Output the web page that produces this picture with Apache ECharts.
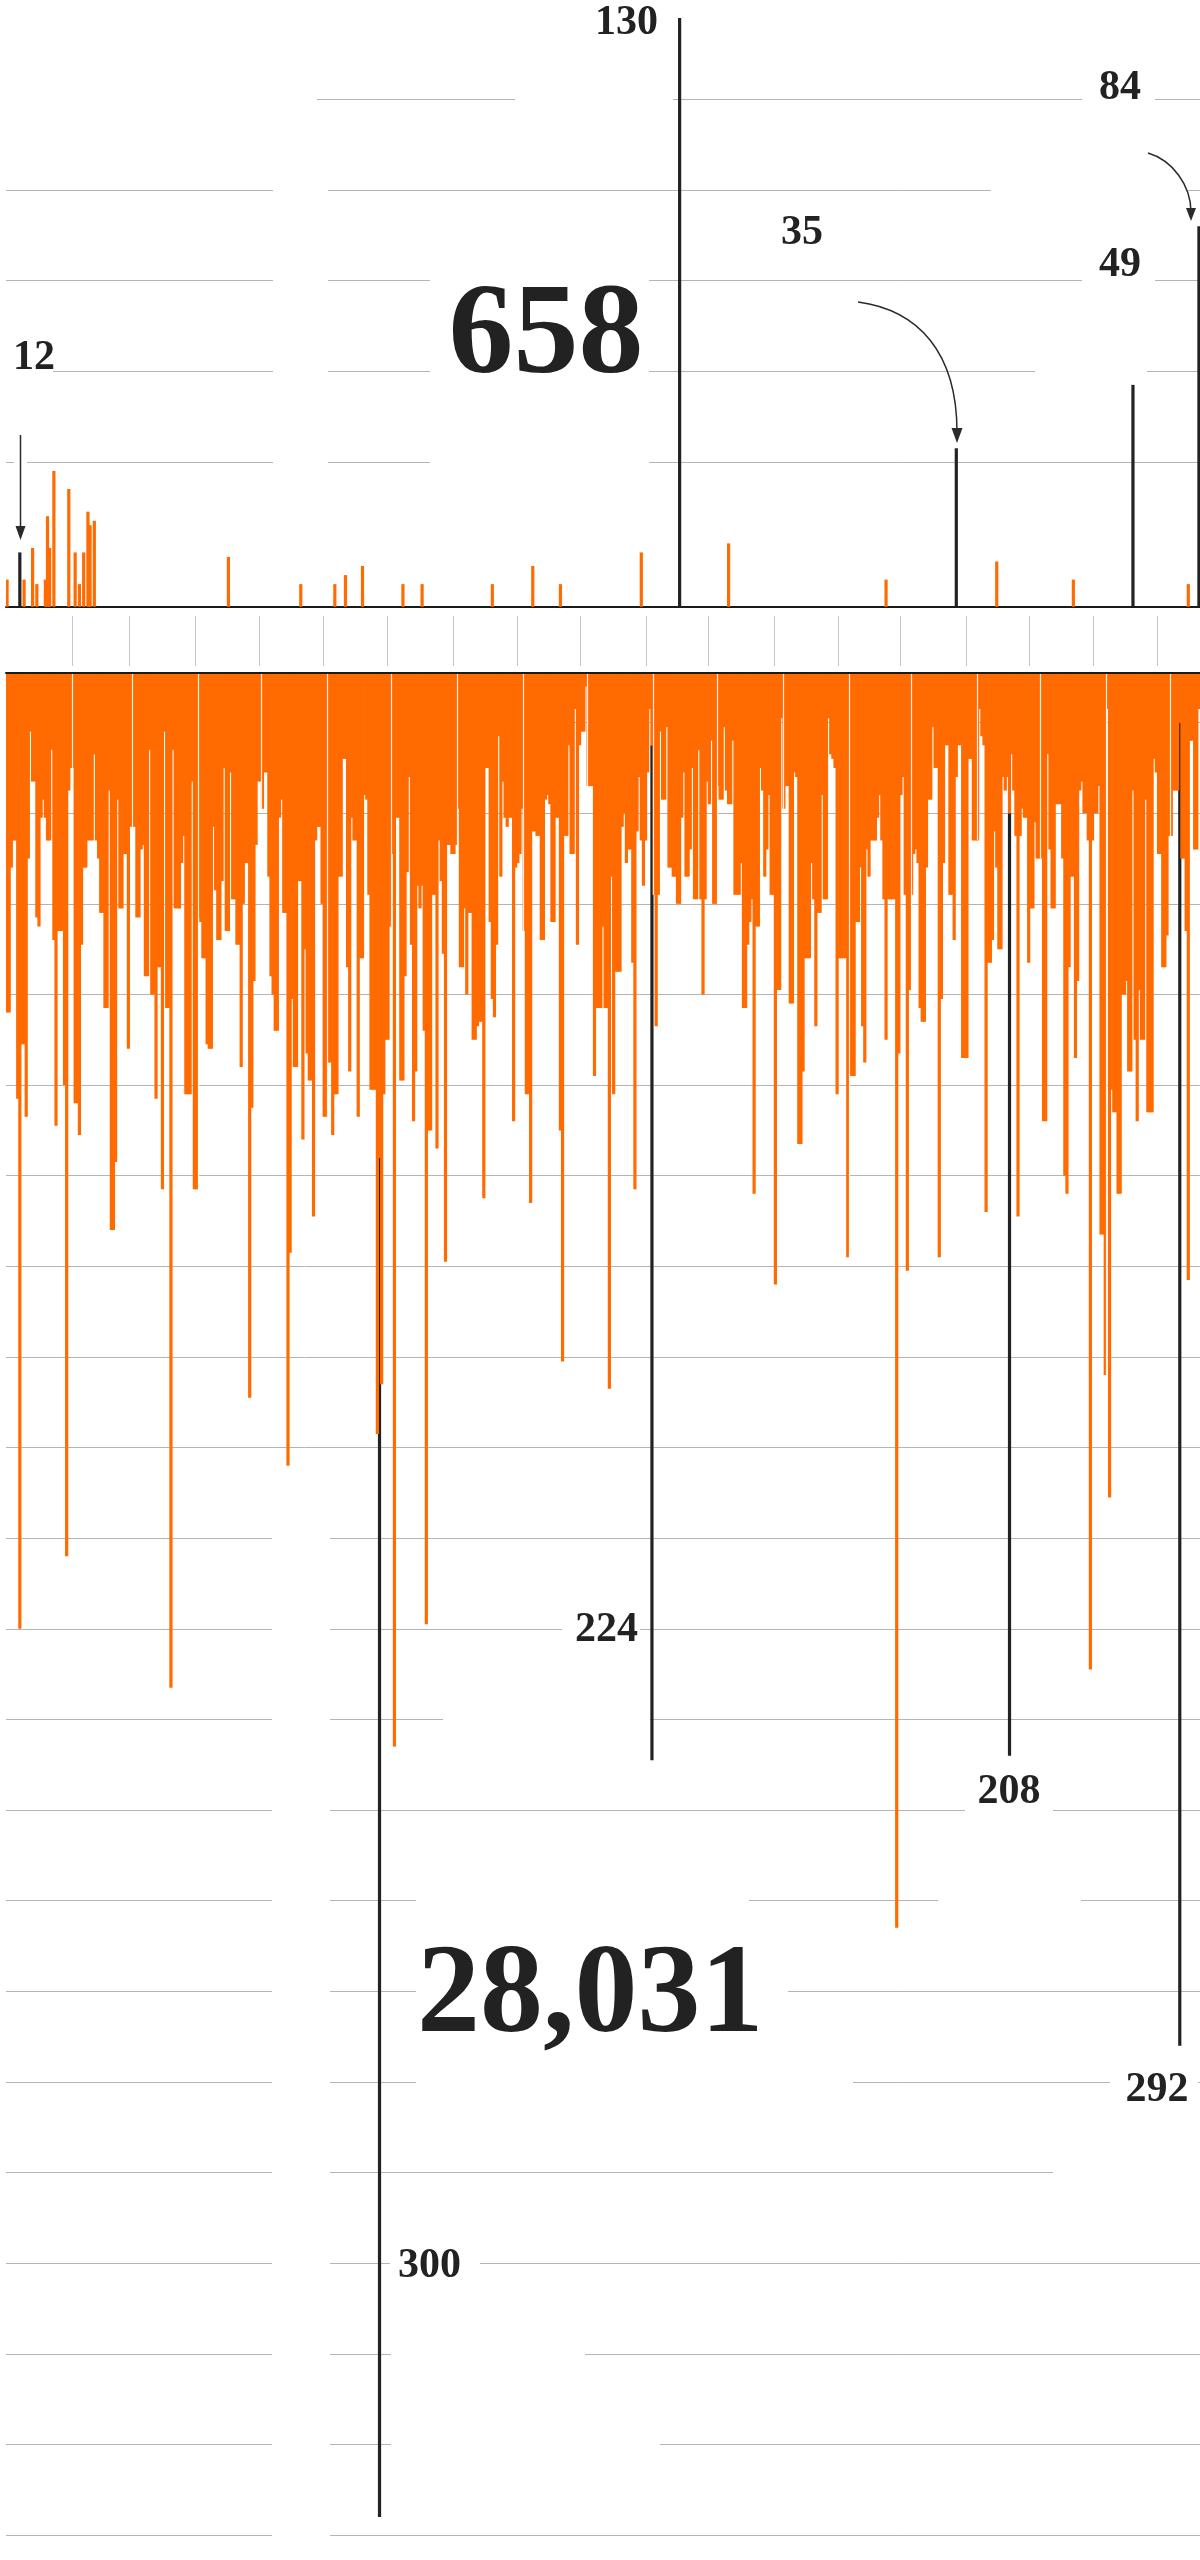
<!DOCTYPE html>
<html>
<head>
<meta charset="utf-8">
<script src="https://cdn.jsdelivr.net/npm/echarts@6/dist/echarts.min.js"></script>
<style>
html,body{margin:0;padding:0;background:#ffffff;}
#chart{width:1200px;height:2560px;}
</style>
</head>
<body>
<div id="chart"></div>
<script>
// ---------------- DATA ----------------
// One category per day, 1 Jan 2015 .. 14 Jul 2016 (561 days)
const START_DATE = [2015, 0, 1];
const DAY_COUNT = 561;

// Upper chart: daily deaths (Europe & US). Highlighted attacks drawn in black.
const TOP_HIGHLIGHT_DAYS   = [6, 316, 446, 529, 560];
const TOP_HIGHLIGHT_VALUES = [12, 130, 35, 49, 84];
const TOP_OTHER_DAYS   = [0, 8, 12, 14, 18, 19, 20, 22, 29, 32, 34, 36, 38, 39, 41, 104, 138, 154, 159, 167, 186, 195, 228, 247, 260, 298, 339, 413, 465, 501, 555];
const TOP_OTHER_VALUES = [6, 6, 13, 5, 6, 20, 13, 30, 26, 12, 5, 12, 21, 18, 19, 11, 5, 5, 7, 9, 5, 5, 5, 9, 5, 12, 14, 6, 10, 6, 5];
const TOP_TOTAL = 658;

// Lower chart: daily deaths (rest of the world). Highlighted attacks drawn in black.
const BOTTOM_HIGHLIGHT_DAYS   = [175, 303, 471, 551];
const BOTTOM_HIGHLIGHT_VALUES = [300, 224, 208, 292];
const BOTTOM_OTHER_VALUES = [
  75, 75, 43, 37, 37, 94, 211, 82, 82, 98,
  41, 13, 24, 24, 54, 56, 32, 28, 32, 37,
  37, 17, 59, 100, 57, 57, 57, 91, 195, 26,
  21, 21, 95, 95, 102, 60, 43, 43, 37, 37,
  37, 18, 37, 41, 53, 53, 74, 74, 26, 123,
  123, 108, 28, 52, 52, 40, 40, 83, 34, 34,
  34, 54, 54, 39, 38, 67, 67, 17, 71, 71,
  94, 65, 65, 114, 13, 74, 74, 224, 17, 52,
  52, 52, 42, 36, 93, 93, 93, 24, 114, 114,
  54, 55, 63, 63, 82, 83, 83, 34, 48, 59,
  59, 46, 21, 57, 57, 22, 50, 50, 60, 60,
  87, 51, 42, 42, 160, 96, 68, 38, 24, 24,
  30, 22, 22, 45, 67, 71, 79, 79, 32, 28,
  53, 53, 175, 128, 72, 87, 87, 46, 46, 103,
  61, 84, 90, 90, 120, 37, 34, 34, 51, 98,
  98, 86, 86, 102, 93, 93, 45, 45, 19, 19,
  65, 88, 32, 37, 37, 98, 63, 63, 27, 28,
  49, 92, 92, 92, 168, 107, 157, 93, 81, 81,
  56, 40, 237, 32, 32, 90, 90, 67, 44, 23,
  60, 99, 88, 47, 52, 47, 79, 210, 101, 101,
  49, 49, 105, 37, 46, 62, 130, 38, 38, 40,
  40, 38, 30, 65, 65, 52, 71, 53, 53, 81,
  81, 78, 77, 77, 116, 21, 21, 55, 72, 76,
  60, 14, 45, 24, 32, 34, 32, 32, 99, 43,
  42, 40, 30, 57, 93, 93, 117, 35, 35, 36,
  36, 59, 59, 28, 27, 29, 55, 55, 32, 32,
  101, 152, 36, 36, 16, 40, 40, 8, 60, 16,
  13, 13, 3, 25, 25, 25, 89, 74, 74, 74,
  56, 74, 74, 158, 45, 93, 66, 66, 66, 34,
  31, 42, 39, 39, 64, 114, 35, 23, 37, 47,
  37, 22, 8, 16, 49, 78, 49, 13, 28, 28,
  12, 43, 43, 45, 45, 51, 51, 32, 22, 45,
  45, 39, 21, 50, 50, 17, 50, 71, 50, 24,
  29, 15, 51, 51, 25, 28, 28, 12, 26, 29,
  29, 15, 49, 49, 49, 42, 74, 74, 60, 55,
  50, 115, 56, 56, 21, 26, 45, 39, 27, 49,
  49, 135, 70, 70, 10, 30, 25, 25, 73, 73,
  22, 23, 104, 104, 88, 63, 63, 63, 42, 50,
  78, 53, 53, 27, 50, 50, 10, 18, 19, 21,
  93, 63, 63, 63, 63, 129, 89, 89, 89, 55,
  55, 43, 78, 86, 39, 45, 37, 37, 37, 32,
  27, 37, 50, 81, 50, 50, 50, 50, 277, 84,
  27, 23, 49, 132, 70, 49, 40, 39, 42, 74,
  77, 77, 43, 28, 28, 12, 21, 21, 129, 72,
  42, 16, 16, 49, 49, 59, 23, 16, 16, 85,
  85, 85, 19, 19, 37, 37, 37, 8, 14, 16,
  119, 64, 64, 59, 35, 43, 61, 61, 23, 26,
  23, 31, 18, 26, 36, 120, 36, 30, 32, 32,
  64, 52, 52, 33, 41, 41, 41, 99, 99, 18,
  39, 52, 52, 29, 29, 29, 41, 111, 115, 65,
  45, 45, 85, 68, 26, 24, 31, 31, 37, 220,
  37, 31, 31, 25, 124, 124, 155, 8, 182, 92,
  97, 97, 115, 115, 71, 71, 68, 88, 88, 26,
  81, 99, 70, 81, 81, 28, 97, 97, 97, 19,
  22, 40, 40, 65, 65, 58, 36, 36, 26, 26,
  26, 11, 41, 41, 57, 134, 15, 15, 39, 39,
  8
];
const BOTTOM_TOTAL = 28031;

// Tick marks in the band between the two charts (category boundaries)
const BAND_TICKS = [31, 58, 89, 119, 149, 179, 210, 240, 270, 301, 330, 361, 391, 420, 451, 481, 511, 541];

// ---------------- BUILD ----------------
const DAYS = [];
for (let i = 0; i < DAY_COUNT; i++) {
  const d = new Date(Date.UTC(START_DATE[0], START_DATE[1], START_DATE[2] + i));
  DAYS.push(d.toISOString().slice(0, 10));
}
const MONTH_STARTS = DAYS.map((d, i) => (i > 0 && d.slice(8) === '01') ? i : -1).filter(i => i >= 0);

function spread(days, values) {
  const arr = new Array(DAY_COUNT).fill(0);
  days.forEach((d, k) => { arr[d] = values[k]; });
  return arr;
}
const topOther = spread(TOP_OTHER_DAYS, TOP_OTHER_VALUES);
const topHigh = spread(TOP_HIGHLIGHT_DAYS, TOP_HIGHLIGHT_VALUES);
const botOther = BOTTOM_OTHER_VALUES.slice();
const botHigh = spread(BOTTOM_HIGHLIGHT_DAYS, BOTTOM_HIGHLIGHT_VALUES);
// month separators run down through the bars on either side of the boundary
const monthSep = MONTH_STARTS.map(i => [i, Math.max(botOther[i - 1], botOther[i])]);

const ORANGE = '#ff6b00';
const INK = '#222222';
const GRID_GRAY = '#b4b4b4';
const NONE = 'rgba(0,0,0,0)';
const SERIF = '"Liberation Serif", "DejaVu Serif", serif';

// ---------------- LAYOUT (decoration) ----------------
const GAPS = [ // [x1, x2, yCenter] white breaks in the gridlines
  [0, 317, 100], [515, 673, 100], [1082, 1155, 100],
  [991, 1188, 190],
  [1082, 1155, 281],
  [0, 53, 371], [1035, 1147, 371],
  [14, 27, 462],
  [562, 640, 1629], [443, 650, 1720], [965, 1053, 1810],
  [416, 749, 1901], [938, 1081, 1901],
  [416, 788, 1991],
  [416, 853, 2082], [1110, 1198, 2082],
  [1053, 1200, 2173],
  [390, 480, 2263], [391, 585, 2354], [391, 660, 2445]
];
const BLOCKS = [ // [x1, y1, x2, y2]
  [273, 150, 328, 475], [430, 235, 649, 475], [272, 1500, 330, 2560]
];
const TOP_LABEL_POS = [[13, 358, 'left'], [658, 23, 'right'], [802, 233, 'center'], [1120, 265, 'center'], [1120, 88, 'center']];
const BOTTOM_LABEL_POS = [[398, 2266, 'left'], [638, 1630, 'right'], [1009, 1792, 'center'], [1157, 2090, 'center']];

const graphics = [];
GAPS.forEach(g => graphics.push({type: 'rect', z: 1, silent: true,
  shape: {x: g[0], y: g[2] - 5, width: g[1] - g[0], height: 10}, style: {fill: '#ffffff'}}));
BLOCKS.forEach(b => graphics.push({type: 'rect', z: 1, silent: true,
  shape: {x: b[0], y: b[1], width: b[2] - b[0], height: b[3] - b[1]}, style: {fill: '#ffffff'}}));

function label(text, pos, size) {
  return {type: 'text', z: 30, silent: true, x: pos[0], y: pos[1],
    style: {text: text, fill: INK, fontFamily: SERIF, fontWeight: 'bold', fontSize: size,
      align: pos[2], verticalAlign: 'middle'}};
}
TOP_HIGHLIGHT_VALUES.forEach((v, k) => graphics.push(label(String(v), TOP_LABEL_POS[k], 42)));
BOTTOM_HIGHLIGHT_VALUES.forEach((v, k) => graphics.push(label(String(v), BOTTOM_LABEL_POS[k], 42)));
graphics.push(label(TOP_TOTAL.toLocaleString('en-US'), [546, 338, 'center'], 130));
graphics.push(label(BOTTOM_TOTAL.toLocaleString('en-US'), [417, 1998, 'left'], 126));

// arrows
const arrowStyle = {stroke: '#2a2a2a', lineWidth: 1.5, fill: null};
graphics.push({type: 'line', z: 30, silent: true, shape: {x1: 20.5, y1: 435, x2: 20.5, y2: 530}, style: arrowStyle});
graphics.push({type: 'polygon', z: 30, silent: true, shape: {points: [[15.5, 526], [25.5, 526], [20.5, 540]]}, style: {fill: '#2a2a2a'}});
graphics.push({type: 'bezierCurve', z: 30, silent: true,
  shape: {x1: 858, y1: 302, cpx1: 918, cpy1: 310, cpx2: 957, cpy2: 352, x2: 957, y2: 432}, style: arrowStyle});
graphics.push({type: 'polygon', z: 30, silent: true, shape: {points: [[951.5, 428], [962.5, 428], [957, 443]]}, style: {fill: '#2a2a2a'}});
graphics.push({type: 'bezierCurve', z: 30, silent: true,
  shape: {x1: 1148, y1: 153, cpx1: 1172, cpy1: 160, cpx2: 1191, cpy2: 185, x2: 1191, y2: 212}, style: arrowStyle});
graphics.push({type: 'polygon', z: 30, silent: true, shape: {points: [[1186, 208], [1196, 208], [1191, 221]]}, style: {fill: '#2a2a2a'}});

// ---------------- CHART ----------------
const chart = echarts.init(document.getElementById('chart'), null, {renderer: 'canvas'});
const hidden = {show: false};
const topLineColors = [NONE, NONE, GRID_GRAY, GRID_GRAY, GRID_GRAY, GRID_GRAY, GRID_GRAY, NONE];
const botLineColors = [NONE];
for (let i = 0; i < 21; i++) botLineColors.push(GRID_GRAY);

chart.setOption({
  animation: false,
  backgroundColor: '#ffffff',
  grid: [
    {left: 6, right: 0, top: 9, height: 634},
    {left: 6, right: 0, top: 632, height: 1903},
    {left: 6, right: 0, top: 665, height: 1}
  ],
  xAxis: [
    {gridIndex: 0, type: 'category', data: DAYS, boundaryGap: true,
     axisLine: {onZero: true, lineStyle: {color: '#1a1a1a', width: 2}},
     axisTick: hidden, axisLabel: hidden, splitLine: hidden},
    {gridIndex: 1, type: 'category', data: DAYS, boundaryGap: true, z: 10,
     axisLine: {onZero: true, lineStyle: {color: '#1a1a1a', width: 2}},
     axisTick: hidden, axisLabel: hidden, splitLine: hidden},
    {gridIndex: 2, type: 'category', data: DAYS, boundaryGap: true, position: 'top',
     axisLine: hidden, axisLabel: hidden, splitLine: hidden,
     axisTick: {show: true, inside: false, length: 50, interval: (i) => BAND_TICKS.indexOf(i) >= 0,
       lineStyle: {color: '#c6c6c6', width: 1}}}
  ],
  yAxis: [
    {gridIndex: 0, type: 'value', min: -8, max: 132, interval: 20,
     axisLine: hidden, axisTick: hidden, axisLabel: hidden,
     splitLine: {show: true, lineStyle: {color: topLineColors, width: 1}}},
    {gridIndex: 1, type: 'value', inverse: true, min: -9, max: 411, interval: 20,
     axisLine: hidden, axisTick: hidden, axisLabel: hidden,
     splitLine: {show: true, lineStyle: {color: botLineColors, width: 1}}},
    {gridIndex: 2, type: 'value', show: false}
  ],
  series: [
    {type: 'bar', name: 'top-other', xAxisIndex: 0, yAxisIndex: 0, stack: 'top', data: topOther,
     barWidth: 3.2, itemStyle: {color: ORANGE}, silent: true, z: 3},
    {type: 'bar', name: 'top-highlight', xAxisIndex: 0, yAxisIndex: 0, stack: 'top', data: topHigh,
     barWidth: 3.2, itemStyle: {color: INK}, silent: true, z: 4},
    {type: 'bar', name: 'bottom-other', xAxisIndex: 1, yAxisIndex: 1, stack: 'bot', data: botOther,
     barWidth: 3.2, itemStyle: {color: ORANGE}, silent: true, z: 3},
    {type: 'bar', name: 'bottom-highlight', xAxisIndex: 1, yAxisIndex: 1, stack: 'bot', data: botHigh,
     barWidth: 3.4, itemStyle: {color: INK}, silent: true, z: 2},
    {type: 'custom', name: 'month-separators', xAxisIndex: 1, yAxisIndex: 1, data: monthSep, z: 6, silent: true,
     encode: {x: 0, y: 1},
     renderItem: function (params, api) {
       const i = api.value(0);
       const p0 = api.coord([i, 0]);
       const p1 = api.coord([i, api.value(1)]);
       const x = Math.round(p0[0] - api.size([1, 0])[0] / 2) + 0.5;
       return {type: 'line', shape: {x1: x, y1: p0[1] + 1, x2: x, y2: p1[1]},
         style: {stroke: 'rgba(255,255,255,0.9)', lineWidth: 1.2}};
     }}
  ],
  graphic: {elements: graphics}
});
</script>
</body>
</html>
